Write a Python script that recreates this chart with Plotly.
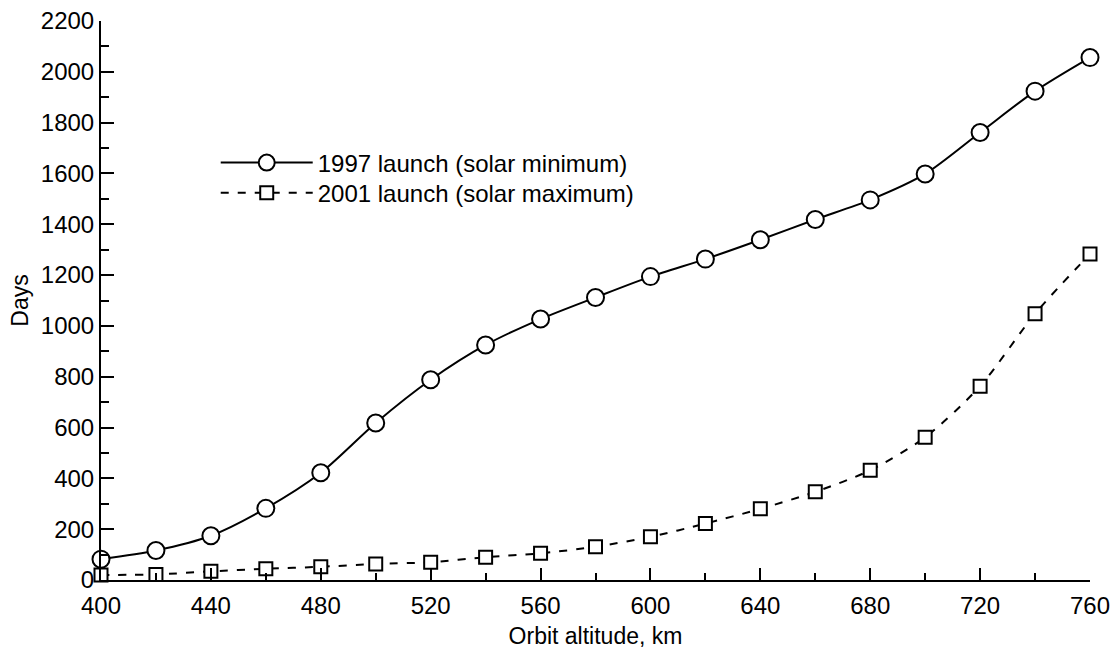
import plotly.graph_objects as go

altitude_km = [400, 420, 440, 460, 480, 500, 520, 540, 560, 580, 600, 620, 640, 660, 680, 700, 720, 740, 760]
days_1997 = [82, 116, 174, 282, 422, 618, 788, 925, 1027, 1112, 1194, 1263, 1339, 1419, 1496, 1598, 1761, 1924, 2056]
days_2001 = [20, 22, 34, 44, 52, 63, 70, 90, 105, 131, 170, 222, 280, 347, 432, 562, 763, 1048, 1283]

name_1997 = "1997 launch (solar minimum)"
name_2001 = "2001 launch (solar maximum)"

x_ticks = [400, 440, 480, 520, 560, 600, 640, 680, 720, 760]
y_ticks = [0, 200, 400, 600, 800, 1000, 1200, 1400, 1600, 1800, 2000, 2200]

FONT = "Liberation Sans, Arial, Helvetica, sans-serif"

fig = go.Figure()
fig.add_trace(go.Scatter(
    x=altitude_km, y=days_1997, name=name_1997, mode="lines+markers",
    line=dict(color="black", width=2, shape="spline", smoothing=0.8),
    marker=dict(symbol="circle", size=17, color="white", line=dict(color="black", width=2)),
    cliponaxis=False, legend="legend",
))
fig.add_trace(go.Scatter(
    x=altitude_km, y=days_2001, name=name_2001, mode="lines+markers",
    line=dict(color="black", width=2, dash="8px,9px", shape="spline", smoothing=0.8),
    marker=dict(symbol="square", size=13, color="white", line=dict(color="black", width=2)),
    cliponaxis=False, legend="legend2",
))

legend_common = dict(xanchor="left", yanchor="middle", bgcolor="rgba(0,0,0,0)",
                     itemwidth=92, font=dict(family=FONT, size=24, color="black"))

fig.update_layout(
    width=1120, height=649,
    margin=dict(l=101, r=30, t=21, b=69),
    paper_bgcolor="white", plot_bgcolor="white",
    font=dict(family=FONT, size=24, color="black"),
    showlegend=True,
    legend=dict(x=0.116, y=0.746, **legend_common),
    legend2=dict(x=0.116, y=0.692, **legend_common),
    xaxis=dict(
        range=[400, 760], tickmode="array", tickvals=x_ticks, automargin=False,
        showgrid=False, zeroline=False, showline=True, linecolor="black", linewidth=2,
        ticks="inside", ticklen=12, tickwidth=2, tickcolor="black", ticklabelstandoff=3,
        minor=dict(dtick=20, ticks="inside", ticklen=7, tickwidth=2, tickcolor="black", showgrid=False),
        title=dict(text="Orbit altitude, km", standoff=14, font=dict(size=23)),
        tickfont=dict(size=24),
    ),
    yaxis=dict(
        range=[0, 2200], tickmode="array", tickvals=y_ticks, automargin=False,
        showgrid=False, zeroline=False, showline=True, linecolor="black", linewidth=2,
        ticks="inside", ticklen=13, tickwidth=2, tickcolor="black",
        minor=dict(dtick=100, ticks="inside", ticklen=8, tickwidth=2, tickcolor="black", showgrid=False),
        title=dict(text="Days", standoff=6, font=dict(size=23)),
        tickfont=dict(size=24),
    ),
)

fig.write_html("out.html", config={"displayModeBar": False},
               post_script="document.body.style.margin='0';")
